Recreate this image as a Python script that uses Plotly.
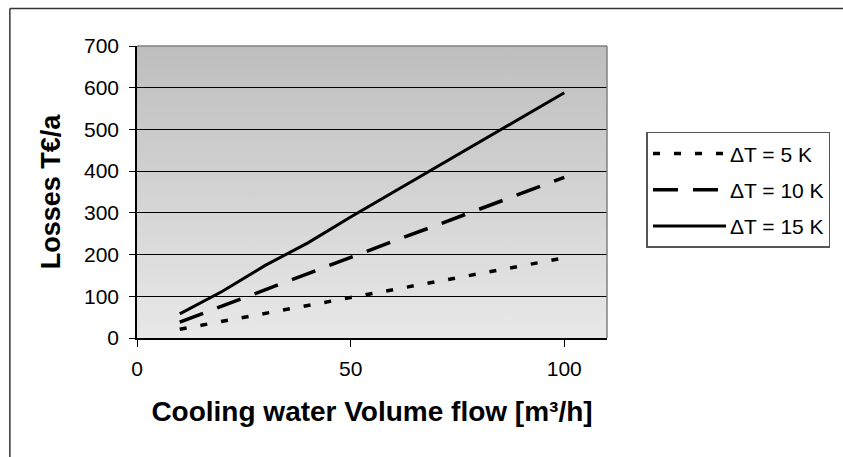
import plotly.graph_objects as go

# ---- data ----
flow = [10, 20, 30, 40, 50, 60, 70, 80, 90, 100]
loss_5k = [21, 40, 58, 79, 97, 115, 135, 154, 172, 192]
loss_10k = [38, 77, 115, 155, 195, 232, 270, 308, 346, 385]
loss_15k = [58, 112, 174, 228, 290, 350, 410, 468, 528, 588]
series_names = ["ΔT = 5 K", "ΔT = 10 K", "ΔT = 15 K"]
x_ticks = [0, 50, 100]
y_ticks = [0, 100, 200, 300, 400, 500, 600, 700]

FONT = "Liberation Sans, Arial, sans-serif"

fig = go.Figure()
styles = [("7px,14px", 3.5), ("25px,15px", 3.5), ("solid", 3)]
for name, ys, (dash, w) in zip(series_names, [loss_5k, loss_10k, loss_15k], styles):
    fig.add_trace(go.Scatter(
        x=flow, y=ys, mode="lines", name=name, legendgroup=name,
        line=dict(color="black", width=w, dash=dash),
    ))

grad_svg = (
    "data:image/svg+xml;utf8,"
    "<svg xmlns='http://www.w3.org/2000/svg' width='10' height='100' preserveAspectRatio='none'>"
    "<defs><linearGradient id='g' x1='0' y1='0' x2='0' y2='1'>"
    "<stop offset='0' stop-color='%23bebebe'/><stop offset='1' stop-color='%23e8e8e8'/>"
    "</linearGradient></defs><rect width='10' height='100' fill='url(%23g)'/></svg>"
)

fig.update_layout(
    width=843, height=457,
    margin=dict(l=137, r=230, t=46, b=119),
    paper_bgcolor="white",
    plot_bgcolor="rgba(0,0,0,0)",
    font=dict(family=FONT, size=21, color="black"),
    images=[dict(source=grad_svg, xref="paper", yref="paper", x=0, y=1,
                 sizex=1, sizey=1, sizing="stretch", layer="below", xanchor="left", yanchor="top")],
    xaxis=dict(
        range=[0, 110], tickvals=x_ticks, ticks="outside", ticklen=7, tickcolor="black",
        showline=True, linecolor="black", linewidth=1.5, showgrid=False, zeroline=False,
        ticklabelstandoff=4,
        title=dict(text="<b>Cooling water Volume flow [m³/h]</b>", font=dict(size=28), standoff=22),
    ),
    yaxis=dict(
        range=[0, 700], tickvals=y_ticks, ticks="outside", ticklen=6, tickcolor="black",
        showline=True, linecolor="black", linewidth=1.5, showgrid=True, gridcolor="black",
        gridwidth=1, zeroline=False, ticklabelstandoff=6,
        title=dict(text="<b>Losses T€/a</b>", font=dict(size=27), standoff=16),
    ),
    legend=dict(
        x=1.084, y=0.706, xanchor="left", yanchor="top",
        bgcolor="white", bordercolor="#555", borderwidth=1.5,
        font=dict(size=21), traceorder="grouped", tracegroupgap=6, itemwidth=72,
    ),
    shapes=[
        # gray top/right frame of plot area
        dict(type="line", xref="paper", yref="paper", x0=0, x1=1, y0=1, y1=1,
             line=dict(color="#808080", width=1.5)),
        dict(type="line", xref="paper", yref="paper", x0=1, x1=1, y0=0, y1=1,
             line=dict(color="#808080", width=1.5)),
        # outer chart border (left and top edges visible)
        dict(type="line", xref="paper", yref="paper", x0=-0.2705, x1=-0.2705, y0=-1.0, y1=1.128,
             line=dict(color="#333", width=1.5), layer="below"),
        dict(type="line", xref="paper", yref="paper", x0=-0.2705, x1=2.5, y0=1.128, y1=1.128,
             line=dict(color="#333", width=1.5), layer="below"),
    ],
    showlegend=True,
)

post = """
var gd = document.getElementsByClassName('plotly-graph-div')[0];
function fixLegend(){
  gd.querySelectorAll('.legend .legendlines path.js-line').forEach(function(p){ p.setAttribute('d','M5,0h73'); });
}
fixLegend();
gd.on('plotly_afterplot', fixLegend);
"""
fig.write_html("out.html", post_script=post)
